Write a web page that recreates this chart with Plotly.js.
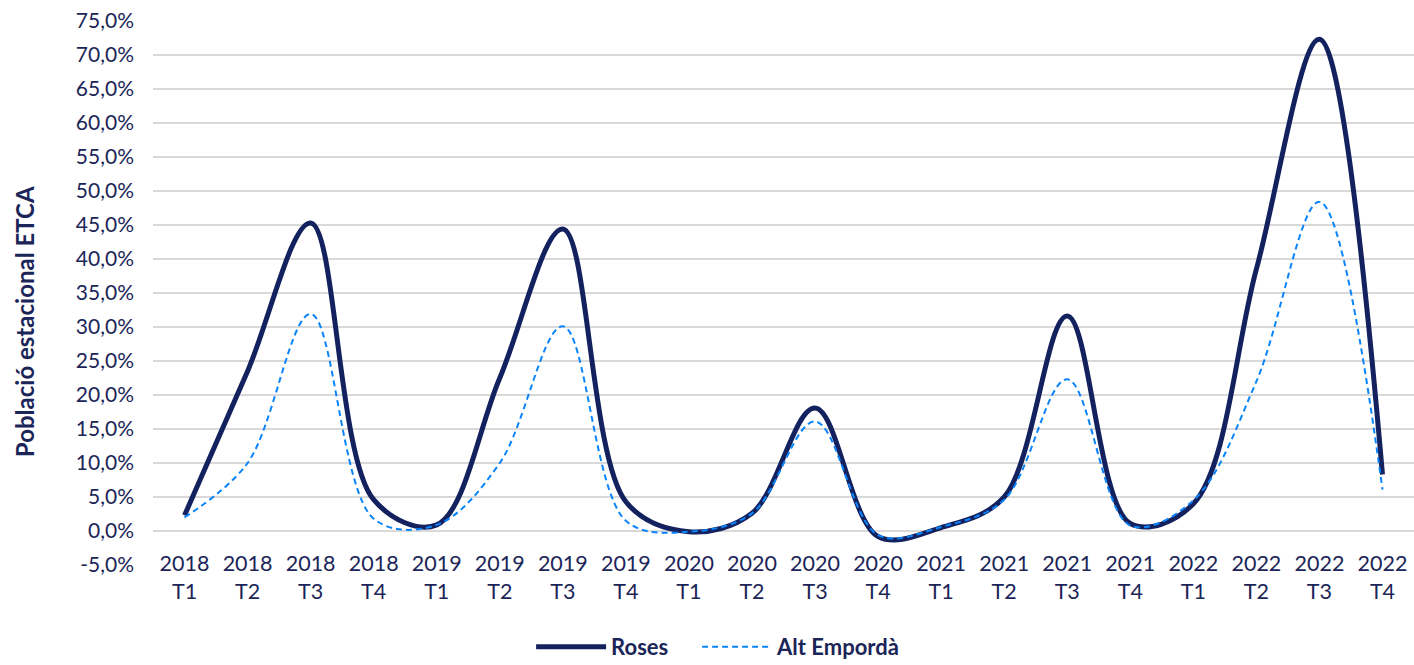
<!DOCTYPE html>
<html>
<head>
<meta charset="utf-8">
<script src="https://cdn.plot.ly/plotly-3.0.1.min.js"></script>
<style>html,body{margin:0;padding:0;background:#fff;}#chart{width:1414px;height:665px;}</style>
</head>
<body>
<div id="chart"></div>
<script>
const years = ["2018","2018","2018","2018","2019","2019","2019","2019","2020","2020","2020","2020","2021","2021","2021","2021","2022","2022","2022","2022"];
const quarters = ["T1","T2","T3","T4","T1","T2","T3","T4","T1","T2","T3","T4","T1","T2","T3","T4","T1","T2","T3","T4"];
const roses = [2.3, 23.5, 45.3, 4.6, 0.9, 22.5, 44.4, 4.3, -0.1, 2.6, 18.1, -0.8, 0.5, 5.0, 31.6, 1.1, 4.0, 38.5, 72.3, 8.3];
const altEmporda = [2.0, 10.0, 31.9, 1.8, 0.9, 10.0, 30.1, 1.5, -0.1, 2.6, 16.1, -0.6, 0.6, 4.6, 22.3, 0.8, 4.5, 22.0, 48.4, 6.1];
const yTicks = [-5,0,5,10,15,20,25,30,35,40,45,50,55,60,65,70,75];
const yTitle = "Població estacional ETCA";

const cats = years.map((y,i) => y + "<br>" + quarters[i]);
const yTickText = yTicks.map(v => v.toFixed(1).replace(".", ",") + "%");

const textColor = "#1b2558";
const font = "Lato, 'Open Sans', sans-serif";
const legendFont = {family: font, size: 22, color: textColor, weight: "bold"};

const traces = [
  {x: cats, y: roses, name: "Roses", type: "scatter", mode: "lines", legend: "legend",
   line: {color: "#13215f", width: 5, shape: "spline", smoothing: 1}},
  {x: cats, y: altEmporda, name: "Alt Empordà", type: "scatter", mode: "lines", legend: "legend2",
   line: {color: "#0b84fa", width: 2, dash: "6px,4px", shape: "spline", smoothing: 1}}
];

const layout = {
  width: 1414, height: 665,
  margin: {l: 153, r: 0, t: 21, b: 100},
  paper_bgcolor: "#fff", plot_bgcolor: "#fff",
  font: {family: font, size: 21.5, color: textColor},
  showlegend: true,
  legend: {orientation: "h", xref: "container", yref: "container", x: 0.3756, y: 0.027,
           xanchor: "left", yanchor: "middle", itemwidth: 70, font: legendFont},
  legend2: {orientation: "h", xref: "container", yref: "container", x: 0.4930, y: 0.027,
           xanchor: "left", yanchor: "middle", itemwidth: 70, font: legendFont},
  xaxis: {type: "category", range: [-0.5, 19.5], showgrid: false, zeroline: false,
          showline: false, ticks: "", anchor: "free", position: 0.03,
          tickfont: {family: font, size: 21.5, color: textColor}},
  yaxis: {range: [-5, 75], tickvals: yTicks, ticktext: yTickText, showgrid: true,
          gridcolor: "#d9d9d9", gridwidth: 1.5, zeroline: false, showline: false,
          ticks: "", ticklabelstandoff: 18,
          tickfont: {family: font, size: 21, color: textColor}},
  annotations: [{text: yTitle, xref: "paper", yref: "paper", x: -0.1014, y: 0.4467,
                 xanchor: "center", yanchor: "middle", textangle: -90, showarrow: false,
                 font: {family: font, size: 24, color: textColor, weight: "bold"}}],
  hovermode: false
};

Plotly.newPlot("chart", traces, layout, {displayModeBar: false, staticPlot: true});
</script>
</body>
</html>
